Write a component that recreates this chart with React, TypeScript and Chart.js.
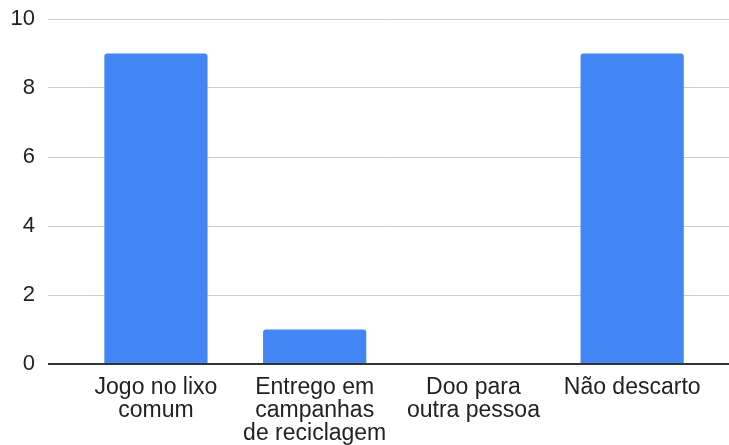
import React, { useEffect, useRef } from "react";
import { Chart, registerables } from "chart.js";

Chart.register(...registerables);

const categories: string[][] = [
  ["Jogo no lixo", "comum"],
  ["Entrego em", "campanhas", "de reciclagem"],
  ["Doo para", "outra pessoa"],
  ["Não descarto"],
];
const values: number[] = [9, 1, 0, 9];
const yTicks: number[] = [0, 2, 4, 6, 8, 10];

const BAR_COLOR = "#4285F4";
const TEXT_COLOR = "#222222";
const X_FONT = { family: "Arial, 'Liberation Sans', sans-serif", size: 23, lineHeight: 1 };
const Y_FONT = { family: "Arial, 'Liberation Sans', sans-serif", size: 22, lineHeight: 1 };

export default function App() {
  const ref = useRef<HTMLCanvasElement | null>(null);

  useEffect(() => {
    if (!ref.current) return;
    const chart = new Chart(ref.current, {
      type: "bar",
      data: {
        datasets: [
          {
            data: values.map((v, i) => ({ x: i, y: v })),
            backgroundColor: BAR_COLOR,
            borderRadius: { topLeft: 3, topRight: 3, bottomLeft: 0, bottomRight: 0 },
            borderSkipped: "bottom",
            barPercentage: 0.65,
            categoryPercentage: 1,
          },
        ],
      },
      options: {
        animation: false,
        responsive: true,
        maintainAspectRatio: false,
        layout: { padding: { top: 19, left: 0, right: 0, bottom: 0 } },
        plugins: { legend: { display: false }, tooltip: { enabled: false } },
        scales: {
          x: {
            type: "linear",
            min: -0.68,
            max: 3.61,
            offset: false,
            bounds: "data",
            grid: { display: false, drawTicks: false, offset: false },
            border: { display: false },
            afterBuildTicks: (scale: any) => {
              scale.ticks = categories.map((_, i) => ({ value: i }));
            },
            afterFit: (scale: any) => {
              scale.height = 81;
              scale.paddingLeft = 0;
              scale.paddingRight = 0;
            },
            ticks: {
              autoSkip: false,
              maxRotation: 0,
              minRotation: 0,
              padding: 12,
              color: TEXT_COLOR,
              font: X_FONT,
              callback: (value: any) => categories[Math.round(Number(value))] ?? "",
            },
          },
          y: {
            min: 0,
            max: 10,
            afterBuildTicks: (scale: any) => {
              scale.ticks = yTicks.map((v) => ({ value: v }));
            },
            afterFit: (scale: any) => {
              scale.width = 48;
              scale.paddingTop = 0;
              scale.paddingBottom = 0;
            },
            border: { display: false },
            grid: {
              drawTicks: false,
              color: (ctx: any) => (ctx.tick && ctx.tick.value === 0 ? "#333333" : "#cccccc"),
              lineWidth: (ctx: any) => (ctx.tick && ctx.tick.value === 0 ? 2 : 1),
            },
            ticks: {
              padding: 13,
              color: TEXT_COLOR,
              font: Y_FONT,
            },
          },
        },
      },
    });
    return () => chart.destroy();
  }, []);

  return (
    <div style={{ position: "absolute", left: 0, top: 0, width: 729, height: 445, background: "#ffffff" }}>
      <canvas ref={ref} />
    </div>
  );
}
